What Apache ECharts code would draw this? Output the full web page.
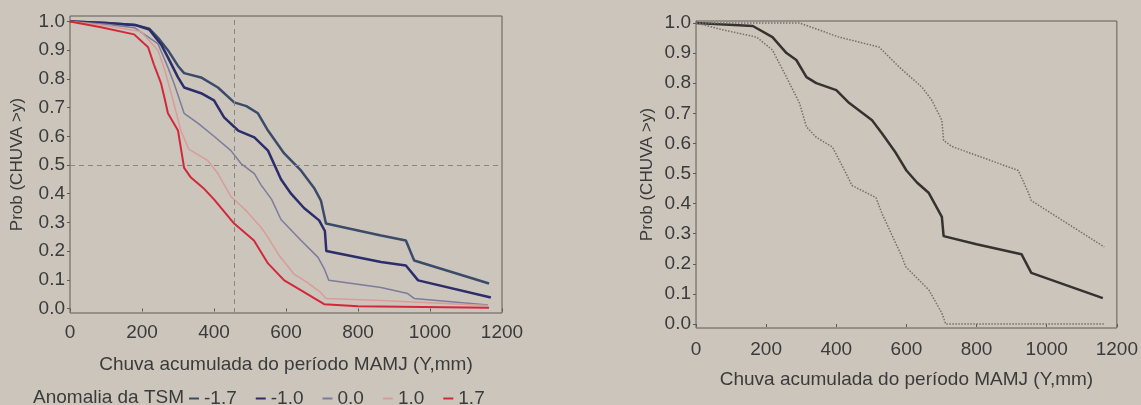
<!DOCTYPE html>
<html>
<head>
<meta charset="utf-8">
<title>Chuva acumulada MAMJ</title>
<script src="https://cdn.jsdelivr.net/npm/echarts@6/dist/echarts.min.js"></script>
<style>
  html, body { margin: 0; padding: 0; background: #cbc5bc; }
  #chart { width: 1141px; height: 405px; }
</style>
</head>
<body>
<div id="chart"></div>
<script>
// eixos
var xTicks = [0, 200, 400, 600, 800, 1000, 1200];
var probTicks = [0, 0.1, 0.2, 0.3, 0.4, 0.5, 0.6, 0.7, 0.8, 0.9, 1.0];
var anomaliaNomes = ['-1.7', '-1.0', '0.0', '1.0', '1.7'];

// grafico da esquerda: uma curva por anomalia da TSM  [chuva mm, prob]
var tsmM17 = [[0,1.0],[100,0.995],[180,0.988],[220,0.975],[244,0.944],[272,0.9],[300,0.845],[317,0.82],[364,0.805],[411,0.77],[456,0.718],[490,0.705],[522,0.68],[550,0.62],[595,0.54],[642,0.48],[678,0.42],[697,0.376],[711,0.296],[800,0.272],[864,0.254],[933,0.237],[956,0.167],[1164,0.087]];
var tsmM10 = [[0,1.0],[100,0.995],[180,0.988],[220,0.972],[253,0.92],[272,0.875],[300,0.805],[317,0.77],[364,0.75],[400,0.725],[428,0.666],[467,0.62],[512,0.596],[550,0.55],[586,0.45],[614,0.4],[650,0.35],[692,0.307],[708,0.27],[712,0.2],[864,0.162],[933,0.15],[967,0.098],[1169,0.038]];
var tsm00 = [[0,1.0],[100,0.99],[180,0.978],[244,0.923],[272,0.84],[289,0.784],[317,0.68],[356,0.645],[400,0.6],[447,0.55],[475,0.505],[512,0.47],[531,0.43],[560,0.38],[586,0.31],[642,0.237],[689,0.178],[706,0.139],[719,0.098],[864,0.073],[938,0.052],[956,0.035],[1161,0.012]];
var tsmP10 = [[0,1.0],[100,0.985],[197,0.965],[244,0.9],[261,0.84],[281,0.75],[308,0.62],[330,0.555],[383,0.515],[411,0.47],[447,0.39],[490,0.34],[531,0.282],[550,0.248],[578,0.19],[622,0.12],[660,0.09],[697,0.055],[711,0.035],[864,0.028],[1161,0.01]];
var tsmP17 = [[0,1.0],[86,0.98],[178,0.955],[217,0.91],[233,0.85],[253,0.784],[265,0.72],[272,0.68],[300,0.62],[317,0.49],[336,0.456],[370,0.42],[400,0.38],[456,0.296],[511,0.237],[550,0.157],[595,0.098],[642,0.063],[706,0.015],[800,0.008],[1164,0.003]];

// linhas tracejadas de referencia
var refChuva = 455;
var refProb = 0.5;

// grafico da direita: curva central e limites (pontilhados)
var centralProb = [[0,1.0],[162,0.99],[218,0.953],[258,0.9],[286,0.877],[315,0.82],[343,0.8],[400,0.777],[437,0.734],[502,0.677],[530,0.634],[570,0.568],[600,0.51],[630,0.47],[664,0.435],[701,0.356],[706,0.292],[800,0.265],[928,0.232],[956,0.17],[1160,0.086]];
var limiteSup = [[0,1.0],[295,1.0],[408,0.953],[522,0.92],[579,0.854],[644,0.787],[672,0.744],[701,0.677],[706,0.61],[729,0.59],[919,0.51],[948,0.435],[956,0.41],[1164,0.256]];
var limiteInf = [[0,1.0],[77,0.977],[173,0.953],[218,0.91],[258,0.82],[295,0.734],[315,0.655],[343,0.62],[389,0.588],[428,0.5],[445,0.46],[513,0.42],[530,0.368],[587,0.224],[598,0.19],[664,0.113],[701,0.036],[712,0.0],[1164,0.0]];

var txt = '#3b3b3b';
var frame = '#5f5b57';
var fontFam = 'Liberation Sans, Arial, sans-serif';

var myChart = echarts.init(document.getElementById('chart'));

function xAxisCfg(gridIndex, labelMargin) {
    return {
        type: 'value', gridIndex: gridIndex,
        min: 0, max: 1200, interval: 200,
        name: 'Chuva acumulada do período MAMJ (Y,mm)',
        nameLocation: 'middle', nameGap: 42,
        nameTextStyle: { color: txt, fontSize: 19, fontFamily: fontFam },
        axisLine: { show: false },
        axisTick: { show: true, length: 3, customValues: xTicks, lineStyle: { color: frame } },
        axisLabel: {
            color: txt, fontSize: 19, fontFamily: fontFam, margin: labelMargin,
            customValues: xTicks,
            formatter: function(v) { return String(v); }
        },
        splitLine: { show: false }
    };
}

function yAxisCfg(gridIndex, min, max, nameGap) {
    return {
        type: 'value', gridIndex: gridIndex,
        min: min, max: max,
        name: 'Prob (CHUVA >y)',
        nameLocation: 'middle', nameGap: nameGap,
        nameTextStyle: { color: txt, fontSize: 17, fontFamily: fontFam },
        axisLine: { show: false },
        axisTick: { show: true, length: 3, customValues: probTicks, lineStyle: { color: frame } },
        axisLabel: {
            color: txt, fontSize: 19, fontFamily: fontFam, margin: 5,
            customValues: probTicks,
            formatter: function(v) { return v.toFixed(1); }
        },
        splitLine: { show: false }
    };
}

function linha(name, data, color, width, type, xi) {
    return {
        name: name, type: 'line', data: data,
        xAxisIndex: xi, yAxisIndex: xi,
        showSymbol: false, symbol: 'none',
        lineStyle: { color: color, width: width, type: type || 'solid' },
        itemStyle: { color: color },
        silent: true, z: 3
    };
}

var serie0 = linha(anomaliaNomes[0], tsmM17, '#3c4b6a', 2.5, 'solid', 0);
// tracejados de referencia
serie0.markLine = {
    silent: true, symbol: 'none',
    label: { show: false },
    lineStyle: { color: '#8b857d', width: 1, type: [5, 4] },
    data: [{ xAxis: refChuva }, { yAxis: refProb }]
};

var option = {
    backgroundColor: '#cbc5bc',
    animation: false,
    textStyle: { fontFamily: fontFam },
    title: {
        text: 'Anomalia da TSM', left: 28, top: 383,
        textStyle: { color: txt, fontSize: 19, fontWeight: 'normal', fontFamily: fontFam }
    },
    legend: {
        data: anomaliaNomes,
        left: 184, top: 384,
        icon: 'rect', itemWidth: 10, itemHeight: 2, itemGap: 19,
        textStyle: { color: txt, fontSize: 19, fontFamily: fontFam }
    },
    grid: [
        { left: 70, top: 16, width: 432, height: 297, show: true, borderColor: frame, borderWidth: 1, backgroundColor: 'transparent' },
        { left: 696, top: 21, width: 424, height: 307, show: true, borderColor: frame, borderWidth: 1, backgroundColor: 'transparent' }
    ],
    xAxis: [xAxisCfg(0, 10), xAxisCfg(1, 12)],
    yAxis: [yAxisCfg(0, -0.0157, 1.019, 44), yAxisCfg(1, -0.0133, 1.0066, 40)],
    series: [
        serie0,
        linha(anomaliaNomes[1], tsmM10, '#2c2d6b', 2.5, 'solid', 0),
        linha(anomaliaNomes[2], tsm00, '#7d7b9c', 1.5, 'solid', 0),
        linha(anomaliaNomes[3], tsmP10, '#d99c98', 1.5, 'solid', 0),
        linha(anomaliaNomes[4], tsmP17, '#d3283a', 2, 'solid', 0),
        linha('central', centralProb, '#363230', 2.5, 'solid', 1),
        linha('superior', limiteSup, '#75706b', 1.5, 'dotted', 1),
        linha('inferior', limiteInf, '#75706b', 1.5, 'dotted', 1)
    ]
};

myChart.setOption(option);
</script>
</body>
</html>
